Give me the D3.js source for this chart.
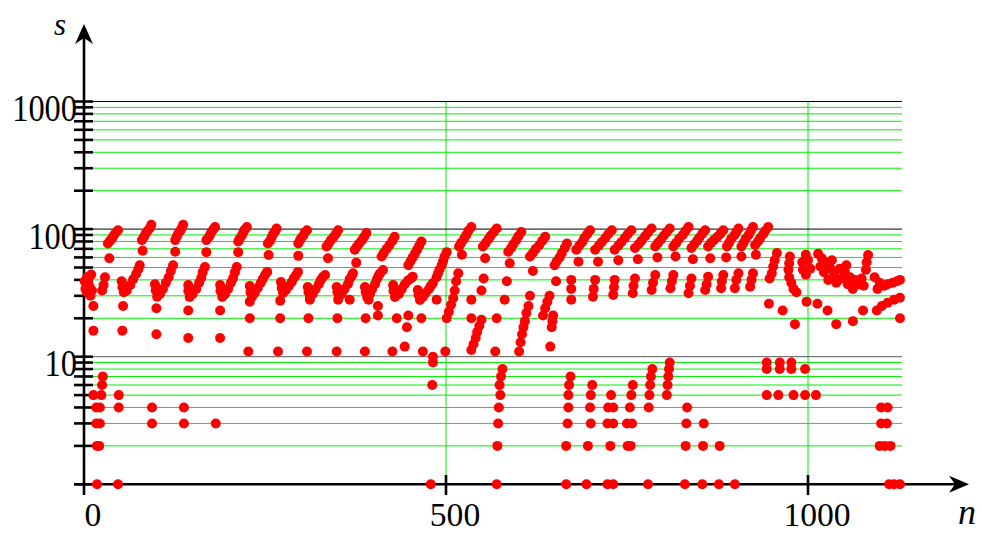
<!DOCTYPE html>
<html>
<head>
<meta charset="utf-8">
<script src="https://cdn.jsdelivr.net/npm/d3@7"></script>
<style>
  html, body { margin: 0; padding: 0; background: #fff; }
  svg { display: block; }
</style>
</head>
<body>
<svg id="chart" width="982" height="534"></svg>
<script>
// ---- data: points as [n, s] ----
const xTickValues = [0, 500, 1000];
const yLabelValues = [10, 100, 1000];
const yGridValues = [1,2,3,4,5,6,7,8,9,10,20,30,40,50,60,70,80,90,100,200,300,400,500,600,700,800,900,1000];

const smallValues = [
  [13,5],[24,5],[25,6],[26,7],[17,4],[22,4],[17,3],[22,3],[18,2],[21,2],[18,1],[47,1],
  [48,5],[48,4],[94,4],[94,3],[138,4],[138,3],[182,3],
  [482,10],[482,9],[481,6],[479,1],
  [570,1],[571,2],[572,3],[573,4],[575,5],[574,6],[576,7],[578,8],
  [666,1],[666,2],[668,3],[669,4],[669,5],[670,6],[672,7],
  [694,1],[696,2],[700,3],[699,4],[700,5],[702,6],
  [728,5],[724,4],[731,4],[723,3],[731,3],[727,2],[723,1],[731,1],
  [751,2],[755,2],[750,3],[757,3],[754,4],[756,5],[758,6],
  [779,1],[780,4],[781,5],[782,6],[783,7],[785,8],
  [805,5],[806,6],[807,7],[808,8],[809,9],
  [830,1],[831,2],[832,3],[833,4],
  [854,1],[855,2],[856,3],
  [877,1],[878,2],[899,1],
  [943,5],[959,5],[980,5],[996,5],[1011,5],
  [943,8],[943,9],[961,8],[961,9],[977,8],[977,9],[996,8],
  [1101,4],[1110,4],[1101,3],[1109,3],[1099,2],[1106,2],[1114,2],[1112,1],[1119,1],[1127,1]
];

const rowEleven = [
  [227,11],[268,11],[308,11],[349,11],[388,11],[426,11],[443,12],[468,11],
  [499,11],[568,11],[644,12]
];

const upperChains = [
  [33,77],[36,81],[39,85],[41,89],[44,94],[47,98],
  [80,82],[83,87],[85,92],[88,97],[91,102],[93,108],
  [126,82],[128,87],[130,92],[133,97],[135,102],[137,108],
  [169,82],[172,86],[174,90],[176,95],[179,100],[181,104],
  [213,80],[215,84],[218,89],[220,94],[222,99],[225,104],
  [254,77],[257,81],[259,86],[261,91],[264,96],[266,101],
  [296,77],[298,81],[300,85],[303,89],[305,94],[308,98],
  [335,73],[338,77],[341,82],[345,87],[348,92],[351,98],
  [374,69],[377,73],[380,77],[384,82],[387,87],[390,93],
  [411,61],[414,65],[418,70],[422,75],[426,81],[429,87],
  [448,52],[451,56],[454,60],[457,64],[460,69],[463,74],[466,80],
  [487,42],[489,45],[491,48],[494,52],[496,56],[498,61],[501,66],
  [518,73],[521,78],[525,84],[528,90],[531,97],[535,104],
  [551,73],[555,78],[559,84],[562,89],[566,95],[570,101],
  [586,66.5],[590,71],[593,76],[597,82],[600,88],[604,95],
  [616,61],[620,65],[624,70],[629,75],[633,81],[637,87],
  [650,52],[653,56],[657,60],[660,65],[664,71],[667,77],
  [680,69],[684,74],[688,79],[691,85],[695,91],[699,98],
  [706,69],[711,74],[715,79],[720,85],[724,91],[729,98],
  [733,69],[738,74],[742,79],[747,85],[751,91],[756,98],
  [761,71],[766,76],[770,81],[775,88],[779,94],[784,101],
  [789,73],[793,78],[797,83],[801,89],[805,95],[809,101],
  [814,73],[818,78],[822,84],[827,90],[831,97],[835,104],
  [839,71],[843,76],[847,81],[850,86],[854,92],[858,98],
  [862,73],[866,78],[870,82],[875,87],[879,92],[883,98],
  [888,73],[891,78],[894,84],[898,89],[901,95],[904,101],
  [908,73],[911,78],[914,84],[918,90],[921,97],[924,104],
  [927,75],[931,80],[934,85],[938,91],[941,97],[945,104]
];

const upperSingles = [
  [35,59],[81,67.6],[126,66.5],[169,66],[213,66],[255,62.7],[296,61.7],[337,59],[376,54.6],[413,47.8],
  [522,63],[554,59],[588,54],[620,47],[652,39],[683,55.6],[710,55.6],[738,57],[765,58],
  [792,60],[817,61],[841,58],[865,59],[887,60],[908,61],[928,63]
];

const middleChains = [
  [1,39],[2,34],[4,32],[4,42],[6,38],[8,35],[9,30],[11,33],[10,44],
  [25,33],[27,36.5],[29,42],
  [52,39],[53,35],[55,32],[59,33],[64,36.5],[68,40.5],[72,44.5],[75,48.5],[77,52],
  [98,37],[99,33],[101,29.5],[105,31],[109,34],[113,38],[117,42],[120,47],[123,52],
  [144,36.5],[144,32.7],[146,29.4],[150,31],[155,34],[159,38],[162,41.4],[164,46],[167,50.5],
  [188,36.5],[188.5,32.7],[191,29.4],[195,31],[199,34],[203,38],[206,41.4],[208.5,46],[211,50.5],
  [229,35.8],[230,32],[232,29.4],[236,31.6],[240,34.6],[244,37.8],[247,40.6],[250,43.7],[253,46.2],
  [272,38.5],[273,34.6],[275,31.6],[279,33.3],[283,35.8],[287,38.5],[290,41.4],[293,43.7],[295.5,46.2],
  [309,35.2],[310,32.1],[312,29.4],[316,31],[320,33.9],[324.5,37.1],[327,39.9],[330,42.1],[333,43.7],
  [349,35.2],[350,32.1],[352,29.4],[356,31],[360,33.9],[364.6,37.1],[367,40.6],[370,43.2],[371.5,45],
  [388,35.2],[389,32.1],[391,29.4],[395,31],[398,33.9],[402,37.1],[404.6,40.6],[407,43.2],[409,45],
  [427,36.5],[427.4,32.7],[429.5,29.4],[435,31],[439,34],[443,37],[447.5,39.5],[451.6,41],[454,42.4],
  [461,33.3],[462,30.5],[464,27.8],[468,29.4],[472,31.6],[476.5,33.9],[479,35.8],[482,37.8],
  [517,45],[514,39],[512,33],
  [552,41],[549,33],
  [584,39],[581,28],
  [616,30],[614,25],
  [673,40],[673,34],[673,28],
  [706,40],[704,34],[703,29.5],
  [733,40],[732,35],[731,30.5],
  [761,41],[759,36],[758,31.4],
  [789,43.7],[786,38],[784,33.3],
  [814,43.7],[812,39],[810,34.4],
  [839,41],[837,36],[835,31.4],
  [862,42.4],[860,37],[858,33.3],
  [883,43.7],[881,39],[880,34.4],
  [904,45],[901,40],[899,34.4],
  [924,45],[922,40],[920,35.4]
];

const lowerSingles = [
  [13,25],[13,16],[54,25],[53,16],[100,24],[100,15],[144,23],[144,14],[188,23],[188,14],
  [229,27],[229,20],[271,27.5],[271,20],[312,28],[310,20],[351,28],[350,20],[367,28],
  [393,28],[389,20],[406,25],[406,21],[432,20],[446,17],[448,21],[466,20],[487,28],
  [510,28.7],[507,25.5],[504,22.5],[501,20],
  [535,28],[535,20],
  [549,19.5],[546,17.4],[543,15.6],[541,14],[538,12.5],[535,11.3],
  [570,20],
  [611,22],[609,19],[607,17],[605,15],[603,13],[601,11],
  [643,30],[640,27],[637,24],[634,21],[648,21],[647,19],[646,17]
];

const tailCluster = [
  [957,65],[954,57],[952,51],[950,45],[947,41],
  [975,61],[974,54],[973,48],[974,42],[977,38],[980,34],[984,32],
  [992,55],[997,63],[1000,57],[993,48],[997,44],[1003,49],
  [1014,64],[1019,59],[1025,55],[1017,51],[1022,46],[1031,49],[1036,44],[1028,40],[1039,38],[1033,57],
  [1044,49],[1051,46],[1058,42],[1065,40],[1047,41],[1055,37],[1062,34],[1053,52],
  [1083,62.7],[1081,55],[1080,48],[1074,41],[1069,37],[1077,36],
  [1092,42],[1099,38],[1105,36],[1110,37],[1117,38],[1123,39],[1127,40],[1096,34],
  [946,26],[965,23],[982,18],[998,27],[1013,26],[1027,23],[1039,18],[1062,19],[1076,23],
  [1095,23],[1102,25],[1110,26.5],[1119,28],[1127,29],[1127,20]
];

// ---- layout ----
const svg = d3.select('#chart');
const x = d3.scaleLinear().domain([0, 1000]).range([84, 808]);
const y = d3.scaleLog().domain([1, 1000]).range([484.3, 101.5]);
const gridRight = 902;
const serif = '"Liberation Serif", "Times New Roman", serif';

// horizontal grid
const isDecade = v => [1, 10, 100, 1000].includes(v);
svg.append('g').selectAll('line').data(yGridValues.filter(v => !isDecade(v))).join('line')
  .attr('x1', x(0)).attr('x2', gridRight)
  .attr('y1', d => y(d)).attr('y2', d => y(d))
  .attr('stroke', '#00ee00').attr('stroke-width', 1);

// vertical grid at 500 and 1000
svg.append('g').selectAll('line').data(xTickValues.filter(v => v > 0)).join('line')
  .attr('x1', d => x(d)).attr('x2', d => x(d))
  .attr('y1', y(1000)).attr('y2', y(1))
  .attr('stroke', '#00ee00').attr('stroke-width', 1);

// decade lines
svg.append('g').selectAll('line').data([10, 100, 1000]).join('line')
  .attr('x1', x(0)).attr('x2', gridRight)
  .attr('y1', d => y(d)).attr('y2', d => y(d))
  .attr('stroke', d => d === 10 ? '#555' : '#000').attr('stroke-width', 1);

// axes
const axisG = svg.append('g').attr('stroke', '#000').attr('stroke-width', 2.6).attr('fill', 'none');
axisG.append('line').attr('x1', x(0)).attr('x2', x(0)).attr('y1', 495).attr('y2', 36);
axisG.append('line').attr('x1', 74).attr('x2', 958).attr('y1', y(1)).attr('y2', y(1));
// y ticks
axisG.selectAll('line.yt').data(yGridValues).join('line').attr('class', 'yt')
  .attr('x1', 74).attr('x2', 93).attr('y1', d => y(d)).attr('y2', d => y(d));
// x ticks
axisG.selectAll('line.xt').data(xTickValues.filter(v => v > 0)).join('line').attr('class', 'xt')
  .attr('x1', d => x(d)).attr('x2', d => x(d)).attr('y1', 475).attr('y2', 495);

// arrow heads
svg.append('path')
  .attr('d', `M${x(0)},24 L${x(0) + 9},44 L${x(0)},38 L${x(0) - 9},44 Z`)
  .attr('fill', '#000');
svg.append('path')
  .attr('d', `M969,${y(1)} L949,${y(1) - 8.5} L955,${y(1)} L949,${y(1) + 8.5} Z`)
  .attr('fill', '#000');

// points
const allPoints = [].concat(smallValues, rowEleven, upperChains, upperSingles,
                            middleChains, lowerSingles, tailCluster);
svg.append('g').selectAll('circle').data(allPoints).join('circle')
  .attr('cx', d => x(d[0])).attr('cy', d => y(d[1])).attr('r', 5)
  .attr('fill', '#ff0000');

// tick labels
const yLab = svg.append('g').attr('font-family', serif).attr('font-size', 37).attr('fill', '#000');
yLab.selectAll('text').data(yLabelValues).join('text')
  .attr('x', 77).attr('y', d => y(d) + 19.5).attr('text-anchor', 'end')
  .attr('textLength', d => String(d).length * 16.2).attr('lengthAdjust', 'spacingAndGlyphs')
  .text(d => d);

const xLab = svg.append('g').attr('font-family', serif).attr('font-size', 33).attr('fill', '#000');
xLab.selectAll('text').data(xTickValues).join('text')
  .attr('x', d => x(d) + 9).attr('y', 526).attr('text-anchor', 'middle')
  .attr('textLength', d => String(d).length * 16.8).attr('lengthAdjust', 'spacingAndGlyphs')
  .text(d => d);

// axis titles
svg.append('text').attr('x', 54).attr('y', 35).attr('font-family', serif)
  .attr('font-style', 'italic').attr('font-size', 31).text('s');
svg.append('text').attr('x', 958).attr('y', 524).attr('font-family', serif)
  .attr('font-style', 'italic').attr('font-size', 36).text('n');
</script>
</body>
</html>
